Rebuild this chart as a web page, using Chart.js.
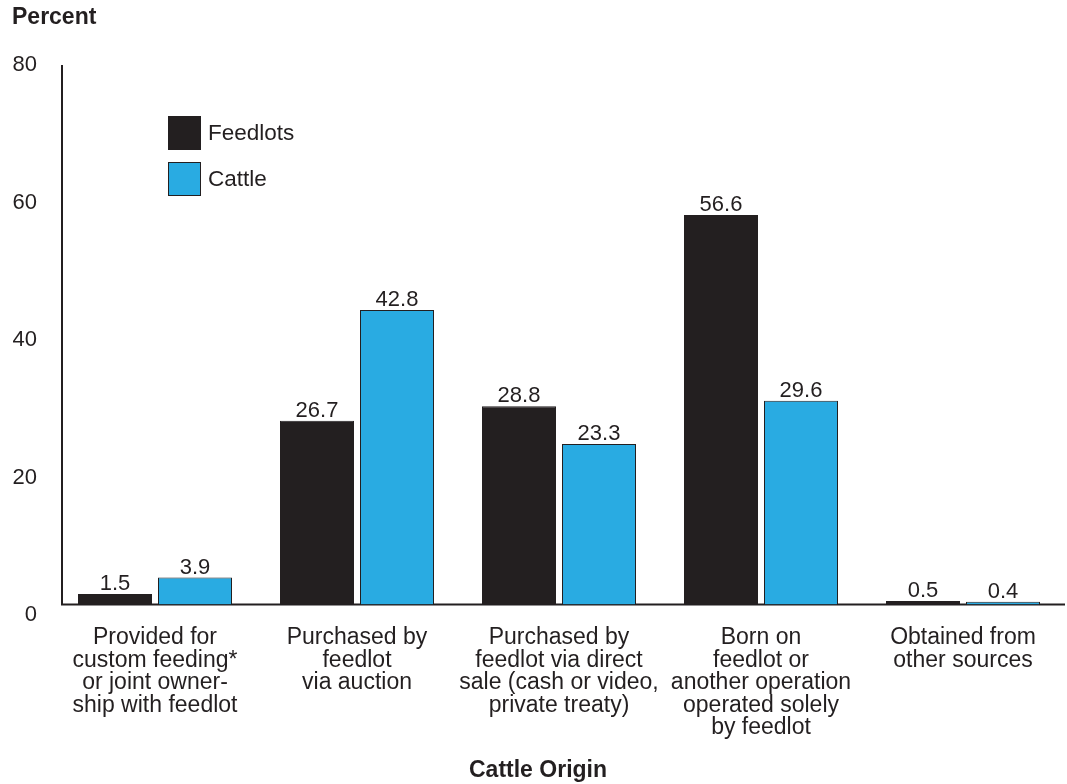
<!DOCTYPE html>
<html>
<head>
<meta charset="utf-8">
<script src="https://cdn.jsdelivr.net/npm/chart.js@4/dist/chart.umd.min.js"></script>
<style>
  html, body { margin: 0; padding: 0; background: #ffffff; }
  #wrap { position: relative; width: 1067px; height: 784px; }
  #legend { position: absolute; left: 168px; top: 116px; font-family: 'Liberation Sans', Arial, sans-serif; font-size: 22.5px; color: #231f20; }
  .item { display: flex; align-items: center; height: 34px; margin-bottom: 12px; }
  .box { width: 31px; height: 32px; border: 1px solid #231f20; margin-right: 7px; box-sizing: content-box; }
</style>
</head>
<body>
<div id="wrap">
  <canvas id="c" width="1067" height="784"></canvas>
  <div id="legend"></div>
</div>
<script>
const categories = [
  ["Provided for", "custom feeding*", "or joint owner-", "ship with feedlot"],
  ["Purchased by", "feedlot", "via auction"],
  ["Purchased by", "feedlot via direct", "sale (cash or video,", "private treaty)"],
  ["Born on", "feedlot or", "another operation", "operated solely", "by feedlot"],
  ["Obtained from", "other sources"]
];
const feedlots = [1.5, 26.7, 28.8, 56.6, 0.5];
const cattle = [3.9, 42.8, 23.3, 29.6, 0.4];
const seriesNames = ["Feedlots", "Cattle"];
const yTicks = [0, 20, 40, 60, 80];

const INK = '#231f20';
const BLUE = '#29abe2';
const FONT = "'Liberation Sans', Arial, sans-serif";

Chart.defaults.font.family = FONT;
Chart.defaults.font.size = 22;
Chart.defaults.color = INK;

const axisLines = {
  id: 'axisLines',
  beforeDatasetsDraw(chart) {
    const { ctx, chartArea, scales } = chart;
    const x0 = chartArea.left + 8;
    const yTop = scales.y.getPixelForValue(78.4);
    const yZero = scales.y.getPixelForValue(0);
    ctx.save();
    ctx.strokeStyle = INK;
    ctx.lineWidth = 2;
    ctx.beginPath();
    ctx.moveTo(x0, yTop);
    ctx.lineTo(x0, yZero);
    ctx.lineTo(chartArea.right + 1, yZero);
    ctx.stroke();
    ctx.restore();
  }
};

const valueLabels = {
  id: 'valueLabels',
  afterDatasetsDraw(chart) {
    const { ctx } = chart;
    ctx.save();
    ctx.font = '22px ' + FONT;
    ctx.fillStyle = INK;
    ctx.textAlign = 'center';
    ctx.textBaseline = 'alphabetic';
    chart.data.datasets.forEach((ds, di) => {
      const meta = chart.getDatasetMeta(di);
      meta.data.forEach((bar, i) => {
        ctx.fillText(ds.data[i].toFixed(1), bar.x, bar.y - 4);
      });
    });
    ctx.restore();
  }
};

const chart = new Chart(document.getElementById('c'), {
  type: 'bar',
  data: {
    labels: categories,
    datasets: [
      { label: seriesNames[0], data: feedlots, backgroundColor: INK, borderColor: INK, borderWidth: 1 },
      { label: seriesNames[1], data: cattle, backgroundColor: BLUE, borderColor: INK, borderWidth: 1 }
    ]
  },
  options: {
    responsive: false,
    animation: false,
    events: [],
    layout: { padding: { left: 12, right: 3, top: 0, bottom: 0 } },
    datasets: { bar: { categoryPercentage: 160 / 202, barPercentage: 74 / 80 } },
    plugins: {
      legend: { display: false },
      tooltip: { enabled: false },
      title: {
        display: true, text: 'Percent', align: 'start', color: INK,
        font: { size: 23, weight: 'bold', lineHeight: 1.2 },
        padding: { top: 4, bottom: 22.4 }
      },
      subtitle: {
        display: true, text: 'Cattle Origin', position: 'bottom', align: 'center', color: INK,
        font: { size: 23, weight: 'bold', lineHeight: 1.2 },
        padding: { top: 16, bottom: 0 }
      }
    },
    scales: {
      x: {
        grid: { display: false, drawTicks: false },
        border: { display: false },
        ticks: { padding: 22, maxRotation: 0, autoSkip: false, font: { size: 23, lineHeight: 0.98 }, color: INK },
        afterFit(s) { s.height = 136; }
      },
      y: {
        min: 0, max: 80,
        grid: { display: false, drawTicks: false },
        border: { display: false },
        afterBuildTicks(s) { s.ticks = yTicks.map(v => ({ value: v })); },
        ticks: { padding: 17, labelOffset: 11, font: { size: 22 }, color: INK },
        afterFit(s) { s.width = 42; }
      }
    }
  },
  plugins: [axisLines, valueLabels]
});

const legend = document.getElementById('legend');
chart.data.datasets.forEach(ds => {
  const item = document.createElement('div');
  item.className = 'item';
  const box = document.createElement('span');
  box.className = 'box';
  box.style.background = ds.backgroundColor;
  const txt = document.createElement('span');
  txt.textContent = ds.label;
  item.appendChild(box);
  item.appendChild(txt);
  legend.appendChild(item);
});
</script>
</body>
</html>
